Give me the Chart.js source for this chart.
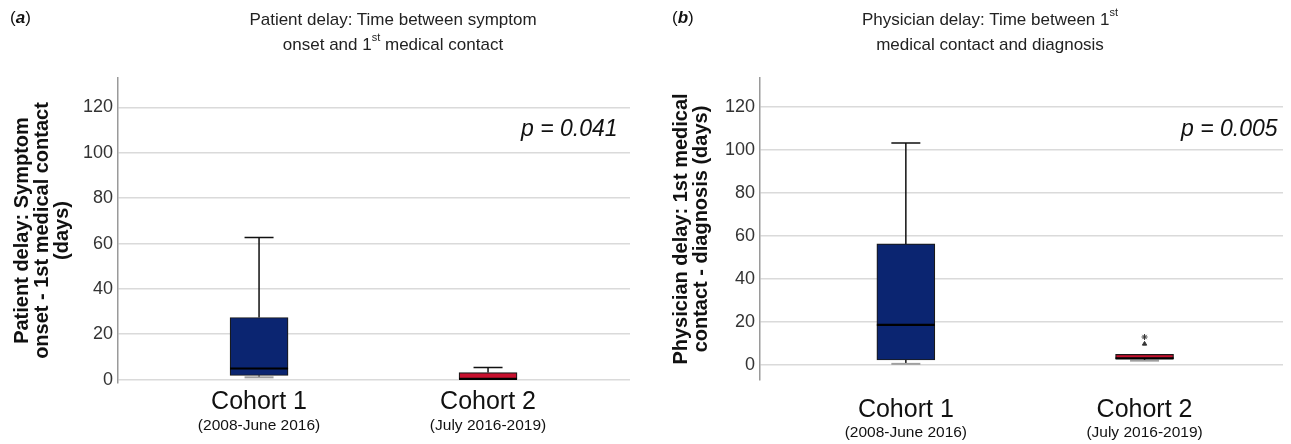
<!DOCTYPE html>
<html>
<head>
<meta charset="utf-8">
<script src="https://cdn.jsdelivr.net/npm/chart.js@4.4.1/dist/chart.umd.min.js"></script>
<style>
body { margin: 0; background: #fff; font-family: "Liberation Sans", Arial, sans-serif; }
#wrap { position: relative; width: 1291px; height: 444px; overflow: hidden; }
.panel { position: absolute; top: 0; height: 444px; }
#panelA { left: 0; width: 645px; }
#panelB { left: 645px; width: 646px; }
.tag { position: absolute; top: 8px; font-size: 17px; color: #111; }
.title { position: absolute; top: 7px; width: 420px; text-align: center; font-size: 17px; line-height: 25px; color: #222; }
.title sup { font-size: 11px; position: relative; top: -2px; line-height: 0; }
.pval { position: absolute; top: 115px; font-size: 23px; font-style: italic; color: #111; }
</style>
</head>
<body>
<div id="wrap">
  <div class="panel" id="panelA"><canvas id="chartA" width="645" height="444"></canvas></div>
  <div class="panel" id="panelB"><canvas id="chartB" width="646" height="444"></canvas></div>
  <div class="tag" style="left:10px">(<b><i>a</i></b>)</div>
  <div class="tag" style="left:672px">(<b><i>b</i></b>)</div>
  <div class="title" style="left:183px">Patient delay: Time between symptom<br>onset and 1<sup>st</sup> medical contact</div>
  <div class="title" style="left:780px">Physician delay: Time between 1<sup>st</sup><br>medical contact and diagnosis</div>
  <div class="pval" style="left:521px">p = 0.041</div>
  <div class="pval" style="left:1181px">p = 0.005</div>
</div>
<script>
var cohortLabels = ['Cohort 1', 'Cohort 2'];
var periodLabels = ['(2008-June 2016)', '(July 2016-2019)'];
var yTickValues = [0, 20, 40, 60, 80, 100, 120];
var boxColors = ['#0b2571', '#c8102e'];

// (a) patient delay, days
var patientLow = [1, 0];
var patientQ1 = [1.8, 0];
var patientMedian = [4.9, 0.3];
var patientQ3 = [27.4, 3.1];
var patientHigh = [62.7, 5.3];

// (b) physician delay, days
var physicianLow = [0.5, 2];
var physicianQ1 = [2.3, 2.9];
var physicianMedian = [18.6, 3.1];
var physicianQ3 = [56.3, 4.9];
var physicianHigh = [103.3, 4.9];
var physicianOutliers = [9.8];
var physicianExtremes = [13];

var whiskerPlugin = {
    id: 'whiskers',
    afterDatasetsDraw: function(chart) {
        var st = chart.config.options.plugins.whiskers;
        var yScale = chart.scales.y;
        var bars = chart.getDatasetMeta(0).data;
        var ctx = chart.ctx;
        ctx.save();
        bars.forEach(function(bar, i) {
            var cx = bar.x;
            var half = bar.width / 2;
            var cap = half / 2;
            var yq1 = yScale.getPixelForValue(st.q1[i]);
            var yq3 = yScale.getPixelForValue(st.q3[i]);
            var yhi = yScale.getPixelForValue(st.high[i]);
            var ylo = yScale.getPixelForValue(st.low[i]);
            var ymed = yScale.getPixelForValue(st.median[i]);
            ctx.strokeStyle = '#111';
            ctx.lineWidth = 1.5;
            if (st.high[i] > st.q3[i]) {
                ctx.beginPath();
                ctx.moveTo(cx, yq3); ctx.lineTo(cx, yhi);
                ctx.moveTo(cx - cap, yhi); ctx.lineTo(cx + cap, yhi);
                ctx.stroke();
            }
            if (st.low[i] < st.q1[i]) {
                ctx.beginPath();
                ctx.moveTo(cx, yq1); ctx.lineTo(cx, ylo);
                ctx.stroke();
                ctx.strokeStyle = '#a0a0a0';
                ctx.lineWidth = 2;
                ctx.beginPath();
                ctx.moveTo(cx - cap, ylo); ctx.lineTo(cx + cap, ylo);
                ctx.stroke();
            }
            ctx.strokeStyle = '#000';
            ctx.lineWidth = 2.2;
            ctx.beginPath();
            ctx.moveTo(cx - half, ymed); ctx.lineTo(cx + half, ymed);
            ctx.stroke();
        });
        ctx.restore();
    }
};

function createBoxChart(elementId, stats, o) {
    var ctx = document.getElementById(elementId).getContext('2d');
    var datasets = [{
        type: 'bar',
        data: cohortLabels.map(function(c, i) { return { x: i + 1, y: [stats.q1[i], stats.q3[i]] }; }),
        backgroundColor: boxColors,
        borderColor: '#1a1a1a',
        borderWidth: 1.2,
        borderSkipped: false,
        barThickness: 58
    }];
    if (stats.outliers) {
        datasets.push({
            type: 'scatter',
            data: stats.outliers.map(function(v) { return { x: 2, y: v }; }),
            pointStyle: 'triangle', radius: 2.5,
            backgroundColor: '#333', borderColor: '#333'
        });
        datasets.push({
            type: 'scatter',
            data: stats.extremes.map(function(v) { return { x: 2, y: v }; }),
            pointStyle: 'star', radius: 3, borderWidth: 1,
            backgroundColor: '#333', borderColor: '#333'
        });
    }
    return new Chart(ctx, {
        type: 'bar',
        data: { datasets: datasets },
        plugins: [whiskerPlugin],
        options: {
            responsive: false,
            animation: false,
            layout: { padding: { left: o.padLeft, right: o.padRight, top: 78, bottom: o.padBottom } },
            plugins: {
                legend: { display: false },
                tooltip: { enabled: false },
                whiskers: stats
            },
            scales: {
                x: {
                    type: 'linear', min: o.xMin, max: o.xMax, offset: false, weight: 0,
                    afterBuildTicks: function(s) { s.ticks = [{ value: 1 }, { value: 2 }]; },
                    afterFit: function(s) { s.height = o.xHeight; },
                    ticks: {
                        callback: function(v, i) { return cohortLabels[i]; },
                        font: { size: 25 }, color: '#111', padding: o.xPad, maxRotation: 0
                    },
                    grid: { display: false, drawTicks: false },
                    border: { display: false }
                },
                x2: {
                    type: 'linear', position: 'bottom', min: o.xMin, max: o.xMax, offset: false, weight: 1,
                    afterBuildTicks: function(s) { s.ticks = [{ value: 1 }, { value: 2 }]; },
                    afterFit: function(s) { s.height = o.x2Height; },
                    ticks: {
                        callback: function(v, i) { return periodLabels[i]; },
                        font: { size: 15.5 }, color: '#111', padding: 0, maxRotation: 0
                    },
                    grid: { display: false, drawTicks: false },
                    border: { display: false }
                },
                y: {
                    min: o.yMin, max: o.yMax,
                    afterBuildTicks: function(s) { s.ticks = yTickValues.map(function(v) { return { value: v }; }); },
                    afterFit: function(s) { s.width = o.yWidth; },
                    ticks: { font: { size: 18 }, color: '#333', padding: 5 },
                    grid: { color: '#dadada', lineWidth: 1.5, drawTicks: false },
                    border: { color: '#9a9a9a', width: 1.5 },
                    title: {
                        display: true, text: o.yTitle, color: '#111',
                        font: { size: 20, weight: 'bold', lineHeight: 1 },
                        padding: { top: o.titlePad, bottom: 0 }
                    }
                }
            }
        }
    });
}

Chart.defaults.font.family = '"Liberation Sans", Arial, sans-serif';

createBoxChart('chartA', {
    low: patientLow, q1: patientQ1, median: patientMedian, q3: patientQ3, high: patientHigh
}, {
    padLeft: 10, padRight: 15, padBottom: 8, yWidth: 108, titlePad: 2,
    xMin: 0.384, xMax: 2.62, yMin: -1.5, yMax: 133,
    xHeight: 33, xPad: 4, x2Height: 20,
    yTitle: ['Patient delay: Symptom', 'onset - 1st medical contact', '(days)']
});

createBoxChart('chartB', {
    low: physicianLow, q1: physicianQ1, median: physicianMedian, q3: physicianQ3, high: physicianHigh,
    outliers: physicianOutliers, extremes: physicianExtremes
}, {
    padLeft: 20, padRight: 8, padBottom: 3, yWidth: 95, titlePad: 6,
    xMin: 0.389, xMax: 2.58, yMin: -7, yMax: 133.5,
    xHeight: 43, xPad: 15, x2Height: 18,
    yTitle: ['Physician delay: 1st medical', 'contact - diagnosis (days)']
});
</script>
</body>
</html>
